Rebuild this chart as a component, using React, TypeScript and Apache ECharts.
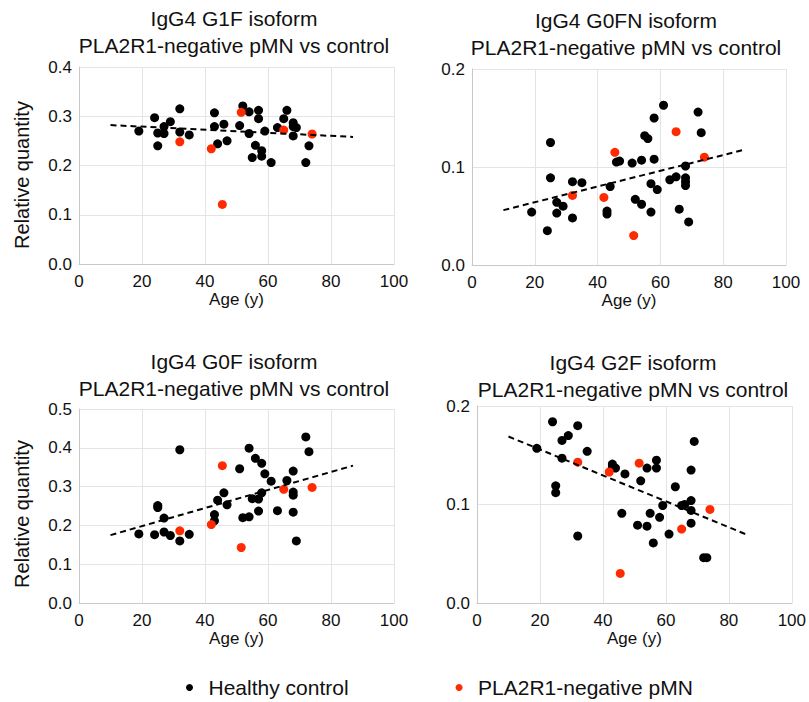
import React, { useEffect, useRef } from "react";
import * as echarts from "echarts";

const titles = [
  "IgG4 G1F isoform\nPLA2R1-negative pMN vs control",
  "IgG4 G0FN isoform\nPLA2R1-negative pMN vs control",
  "IgG4 G0F isoform\nPLA2R1-negative pMN vs control",
  "IgG4 G2F isoform\nPLA2R1-negative pMN vs control",
];
const seriesNames = ["Healthy control", "PLA2R1-negative pMN"];
const xTitle = "Age (y)";
const yTitle = "Relative quantity";
const yMax = [0.4, 0.2, 0.5, 0.2];

const g1fHealthy = [[19,0.270],[24,0.297],[25,0.266],[25,0.240],[27,0.279],[27,0.265],[29,0.289],[32,0.315],[32,0.268],[35,0.262],[43,0.307],[43,0.279],[44,0.244],[46,0.284],[47,0.250],[51,0.281],[52,0.321],[54,0.309],[54,0.265],[55,0.216],[56,0.241],[57,0.312],[57,0.295],[58,0.230],[58,0.219],[59,0.270],[61,0.206],[63,0.277],[65,0.295],[66,0.312],[68,0.287],[68,0.279],[68,0.260],[69,0.277],[72,0.206],[73,0.240]];
const g1fPmn = [[32,0.248],[42,0.234],[45.5,0.121],[51.5,0.308],[65,0.272],[74,0.264]];
const g1fTrend = [[10,0.282],[87,0.258]];

const g0fnHealthy = [[19,0.054],[24,0.035],[25,0.125],[25,0.089],[27,0.064],[27,0.053],[29,0.060],[32,0.085],[32,0.048],[35,0.084],[43,0.055],[43,0.052],[44,0.080],[46,0.105],[47,0.106],[51,0.104],[52,0.067],[54,0.107],[54,0.062],[55,0.132],[56,0.129],[57,0.083],[57,0.054],[58,0.150],[58,0.108],[59,0.077],[61,0.163],[63,0.087],[65,0.090],[66,0.057],[68,0.101],[68,0.089],[68,0.085],[68,0.081],[69,0.044],[72,0.156],[73,0.135]];
const g0fnPmn = [[32,0.071],[42,0.069],[45.5,0.115],[51.5,0.030],[65,0.136],[74,0.110]];
const g0fnTrend = [[10,0.056],[86,0.117]];

const g0fHealthy = [[19,0.178],[24,0.176],[25,0.251],[25,0.246],[27,0.219],[27,0.183],[29,0.174],[32,0.395],[32,0.160],[35,0.177],[43,0.228],[43,0.212],[44,0.265],[46,0.284],[47,0.253],[51,0.346],[52,0.220],[54,0.399],[54,0.222],[55,0.269],[56,0.373],[57,0.268],[57,0.237],[58,0.360],[58,0.284],[59,0.333],[61,0.314],[63,0.238],[66,0.316],[68,0.340],[68,0.286],[68,0.278],[68,0.234],[69,0.160],[72,0.428],[73,0.390]];
const g0fPmn = [[32,0.186],[42,0.202],[45.5,0.354],[51.5,0.143],[65,0.293],[74,0.298]];
const g0fTrend = [[10,0.175],[87,0.354]];

const g2fHealthy = [[19,0.157],[24,0.184],[25,0.119],[25,0.112],[27,0.165],[27,0.147],[29,0.170],[32,0.180],[32,0.068],[35,0.154],[43,0.141],[43,0.138],[44,0.137],[46,0.091],[47,0.131],[51,0.079],[52,0.124],[54,0.137],[54,0.078],[55,0.091],[56,0.061],[57,0.145],[57,0.137],[58,0.087],[59,0.099],[61,0.070],[63,0.118],[65,0.099],[66,0.100],[68,0.104],[68,0.135],[68,0.094],[68,0.081],[69,0.164],[72,0.046],[73,0.046]];
const g2fPmn = [[32,0.143],[42,0.133],[45.5,0.030],[51.5,0.142],[65,0.075],[74,0.095]];
const g2fTrend = [[10,0.169],[86,0.069]];

const healthyData = [g1fHealthy, g0fnHealthy, g0fHealthy, g2fHealthy];
const pmnData = [g1fPmn, g0fnPmn, g0fPmn, g2fPmn];
const trendData = [g1fTrend, g0fnTrend, g0fTrend, g2fTrend];

const FONT = "'Liberation Sans', Arial, Helvetica, sans-serif";

export default function App() {
  const ref = useRef<HTMLDivElement>(null);
  useEffect(() => {
    document.body.style.margin = "0";
    if (!ref.current) return;
    const chart = echarts.init(ref.current, undefined, { renderer: "svg" });

    const grids = [
      { left: 79, top: 67, width: 315, height: 197 },
      { left: 472, top: 69, width: 314, height: 196 },
      { left: 79, top: 409, width: 315, height: 194 },
      { left: 477, top: 406, width: 315, height: 197 },
    ];
    const titlePos = [
      { x: 234, y: 18 },
      { x: 626, y: 20 },
      { x: 234, y: 361 },
      { x: 633, y: 362 },
    ];
    const yNamePos = [
      { x: 22, y: 175 },
      { x: 22, y: 514 },
    ];

    const xAxis = grids.map((_, i) => ({
      type: "value",
      gridIndex: i,
      min: 0,
      max: 100,
      interval: 20,
      name: xTitle,
      nameLocation: "middle",
      nameGap: 27,
      nameTextStyle: { fontSize: 17, color: "#111", fontFamily: FONT },
      axisLine: { show: true, lineStyle: { color: "#c8c8c8" } },
      axisTick: { show: false },
      axisLabel: { fontSize: 17, color: "#111", fontFamily: FONT, margin: 9 },
      splitLine: { show: true, lineStyle: { color: "#e4e4e4" } },
    }));
    const yAxis = grids.map((_, i) => ({
      type: "value",
      gridIndex: i,
      min: 0,
      max: yMax[i],
      interval: 0.1,
      axisLine: { show: true, lineStyle: { color: "#c8c8c8" } },
      axisTick: { show: false },
      axisLabel: {
        fontSize: 17,
        color: "#111",
        fontFamily: FONT,
        margin: 7,
        formatter: (v: number) => v.toFixed(1),
      },
      splitLine: { show: true, lineStyle: { color: "#e4e4e4" } },
    }));

    const series: any[] = [];
    for (let i = 0; i < 4; i++) {
      series.push({
        type: "scatter",
        name: seriesNames[0],
        xAxisIndex: i,
        yAxisIndex: i,
        data: healthyData[i],
        symbol: "circle",
        symbolSize: 9,
        itemStyle: { color: "#000000", opacity: 1 },
        z: 2,
      });
      series.push({
        type: "scatter",
        name: seriesNames[1],
        xAxisIndex: i,
        yAxisIndex: i,
        data: pmnData[i],
        symbol: "circle",
        symbolSize: 9,
        itemStyle: { color: "#ff2a00", opacity: 1 },
        z: 3,
      });
      series.push({
        type: "line",
        name: "trend" + i,
        xAxisIndex: i,
        yAxisIndex: i,
        data: trendData[i],
        showSymbol: false,
        symbol: "none",
        lineStyle: { color: "#000", width: 2, type: [6, 4] },
        z: 4,
        silent: true,
      });
    }

    const graphic: any[] = [];
    titles.forEach((t, i) => {
      const lines = t.split("\n");
      lines.forEach((ln, j) => {
        graphic.push({
          type: "text",
          x: titlePos[i].x,
          y: titlePos[i].y + j * 27,
          style: {
            text: ln,
            align: "center",
            verticalAlign: "middle",
            fontSize: 21,
            fontFamily: FONT,
            fill: "#111",
          },
        });
      });
    });
    yNamePos.forEach((p) => {
      graphic.push({
        type: "text",
        x: p.x,
        y: p.y,
        rotation: Math.PI / 2,
        style: {
          text: yTitle,
          align: "center",
          verticalAlign: "middle",
          fontSize: 20,
          fontFamily: FONT,
          fill: "#111",
        },
      });
    });

    chart.setOption({
      animation: false,
      backgroundColor: "#ffffff",
      grid: grids,
      xAxis,
      yAxis,
      series,
      graphic,
      legend: {
        data: seriesNames.map((n) => ({ name: n, icon: "circle" })),
        left: 181,
        top: 672,
        itemWidth: 28,
        itemHeight: 7,
        itemGap: 107,
        textStyle: { fontSize: 21, color: "#111", fontFamily: FONT },
        selectedMode: false,
      },
    });
    return () => chart.dispose();
  }, []);
  return <div ref={ref} style={{ width: 809, height: 702 }} />;
}
